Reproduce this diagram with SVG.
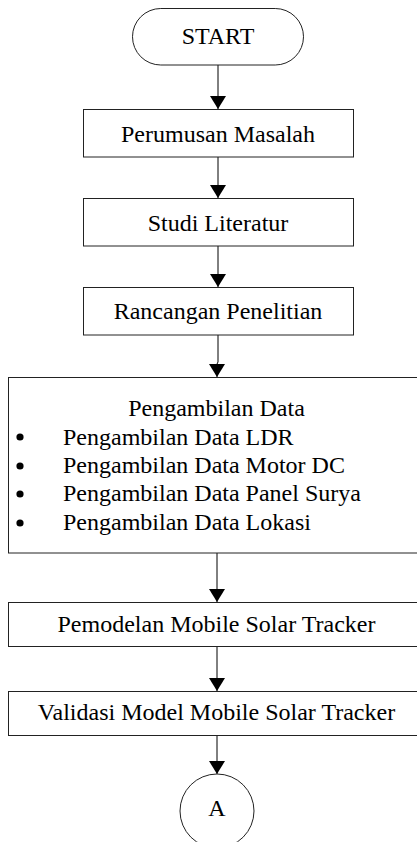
<svg xmlns="http://www.w3.org/2000/svg" width="417" height="842" viewBox="0 0 417 842">
<style>
.box{fill:#fff;stroke:#222;stroke-width:1}
.t{font-family:"Liberation Serif","Times New Roman",serif;font-size:24px;fill:#000}
.c{text-anchor:middle}
.ln{fill:none;stroke:#000;stroke-width:1}
</style>
<defs>
<marker id="ah" markerUnits="userSpaceOnUse" markerWidth="14" markerHeight="16" refX="13" refY="8" orient="auto">
<path d="M0,0 L13,8 L0,16 z" fill="#000"/>
</marker>
</defs>
<rect width="417" height="842" fill="#fff"/>
<g id="connectors">
<path class="ln" d="M218,65 V109" marker-end="url(#ah)"/>
<path class="ln" d="M218,157 V198" marker-end="url(#ah)"/>
<path class="ln" d="M218,246 V287" marker-end="url(#ah)"/>
<path class="ln" d="M218,335 V362 L217,364 V377" marker-end="url(#ah)"/>
<path class="ln" d="M217,553 V602" marker-end="url(#ah)"/>
<path class="ln" d="M217,647 V691" marker-end="url(#ah)"/>
<path class="ln" d="M217,735 V774" marker-end="url(#ah)"/>
</g>
<g id="start">
<rect class="box" x="132.5" y="8.5" width="171" height="56.5" rx="28.25"/>
<text class="t c" x="218" y="44">START</text>
</g>
<g id="perumusan">
<rect class="box" x="83.5" y="109.5" width="270" height="47.5"/>
<text class="t c" x="218" y="142">Perumusan Masalah</text>
</g>
<g id="studi">
<rect class="box" x="83.5" y="198.5" width="270" height="47.5"/>
<text class="t c" x="218" y="231">Studi Literatur</text>
</g>
<g id="rancangan">
<rect class="box" x="83.5" y="287.5" width="270" height="47.5"/>
<text class="t c" x="218" y="319">Rancangan Penelitian</text>
</g>
<g id="pengambilan">
<rect class="box" x="8.5" y="377.5" width="420" height="175.5"/>
<text class="t c" x="216.5" y="416">Pengambilan Data</text>
<circle cx="20" cy="437" r="3.6"/>
<circle cx="20" cy="466" r="3.6"/>
<circle cx="20" cy="494" r="3.6"/>
<circle cx="20" cy="523" r="3.6"/>
<text class="t" x="63" y="445">Pengambilan Data LDR</text>
<text class="t" x="63" y="473">Pengambilan Data Motor DC</text>
<text class="t" x="63" y="501">Pengambilan Data Panel Surya</text>
<text class="t" x="63" y="530">Pengambilan Data Lokasi</text>
</g>
<g id="pemodelan">
<rect class="box" x="8.5" y="602.5" width="420" height="44"/>
<text class="t c" x="216.5" y="632">Pemodelan Mobile Solar Tracker</text>
</g>
<g id="validasi">
<rect class="box" x="8.5" y="691.5" width="420" height="44"/>
<text class="t c" x="216.5" y="720">Validasi Model Mobile Solar Tracker</text>
</g>
<g id="connector-a">
<circle class="box" cx="217" cy="811" r="37"/>
<text class="t c" x="217" y="816">A</text>
</g>
</svg>
